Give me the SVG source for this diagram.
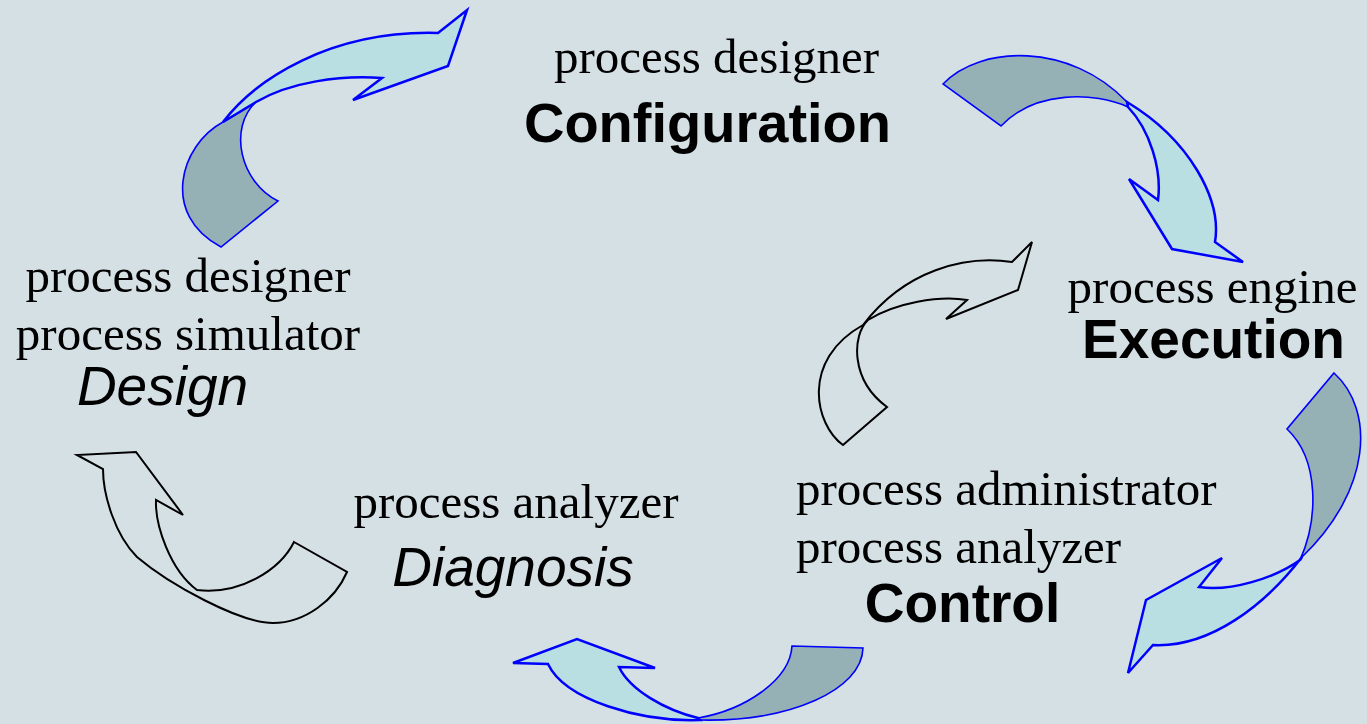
<svg xmlns="http://www.w3.org/2000/svg" width="1367" height="724" viewBox="0 0 1367 724">
<style>
.bg{fill:#d5e0e5}
.lt{fill:#b9dfe3;stroke:#0000ff;stroke-width:2.5;stroke-linejoin:miter}
.dk{fill:#95b1b5;stroke:#0000ff;stroke-width:1.6;stroke-linejoin:miter}
.bk{fill:none;stroke:#000;stroke-width:2;stroke-linejoin:miter}
.sr{font-family:"Liberation Serif","Times New Roman",serif;font-size:49px;fill:#000}
.bd{font-family:"Liberation Sans",Arial,sans-serif;font-size:55px;font-weight:bold;fill:#000}
.it{font-family:"Liberation Sans",Arial,sans-serif;font-size:55px;font-style:italic;fill:#000}
</style>
<rect class="bg" x="0" y="0" width="1367" height="724"/>
<g id="connectors">
  <g id="arrow-design-config">
    <path class="dk" d="M223,122 C180,145 160,215 221,247 L278,201 C240,182 228,128 256,102 Z"/>
    <path class="lt" d="M223,122 C255,80 330,30 438,33 L467,10 L448,66 L353,100 L382,78 C340,75 290,82 256,102 Z"/>
  </g>
  <g id="arrow-config-exec">
    <path class="dk" d="M943,84 C980,45 1070,42 1127,102 L1128,107 C1095,92 1035,90 1001,126 Z"/>
    <path class="lt" d="M1127,102 C1190,140 1222,200 1215,242 L1243,262 L1172,249 L1129,179 L1158,200 C1162,170 1150,130 1128,107 Z"/>
  </g>
  <g id="arrow-exec-control">
    <path class="dk" d="M1334,373 C1375,410 1372,490 1302,557 L1300,560 C1318,520 1320,460 1287,429 Z"/>
    <path class="lt" d="M1302,557 C1265,605 1210,648 1153,645 L1128,673 L1146,600 L1222,558 L1199,587 C1230,592 1275,578 1300,560 Z"/>
  </g>
  <g id="arrow-control-diag">
    <path class="dk" d="M792,646 L863,648 C862,690 790,722 700,720 L698,718 C745,710 790,680 792,646 Z"/>
    <path class="lt" d="M698,718 C665,710 630,690 619,667 L655,668 L577,639 L513,663 L548,664 C565,700 640,722 700,720 Z"/>
  </g>
  <g id="arrow-diag-design">
    <path class="bk" d="M294,542 L347,572 C335,600 305,623 273,623 C240,623 170,585 137,557 C115,535 103,495 103,469 L77,455 L136,452 L183,515 L156,500 C155,525 170,570 197,590 C240,595 280,570 294,542 Z"/>
  </g>
  <g id="arrow-control-exec">
    <path class="bk" d="M843,445 C815,425 800,360 863,325 C905,270 965,255 1012,262 L1032,242 L1018,290 L946,319 L967,300 C940,295 895,303 868,320 C852,335 850,380 887,407 Z"/>
  </g>
</g>
<g id="node-configuration">
  <text class="sr" x="716.5" y="73" text-anchor="middle">process designer</text>
  <text class="bd" x="707.5" y="142" text-anchor="middle" style="font-size:56px">Configuration</text>
</g>
<g id="node-design">
  <text class="sr" x="188" y="292" text-anchor="middle">process designer</text>
  <text class="sr" x="188" y="350" text-anchor="middle">process simulator</text>
  <text class="it" x="162.5" y="405" text-anchor="middle">Design</text>
</g>
<g id="node-execution">
  <text class="sr" x="1212.5" y="303" text-anchor="middle">process engine</text>
  <text class="bd" x="1213.5" y="358" text-anchor="middle">Execution</text>
</g>
<g id="node-control">
  <text class="sr" x="796" y="505">process administrator</text>
  <text class="sr" x="796" y="563">process analyzer</text>
  <text class="bd" x="962.5" y="622" text-anchor="middle">Control</text>
</g>
<g id="node-diagnosis">
  <text class="sr" x="516" y="518" text-anchor="middle">process analyzer</text>
  <text class="it" x="513" y="586" text-anchor="middle">Diagnosis</text>
</g>
</svg>
